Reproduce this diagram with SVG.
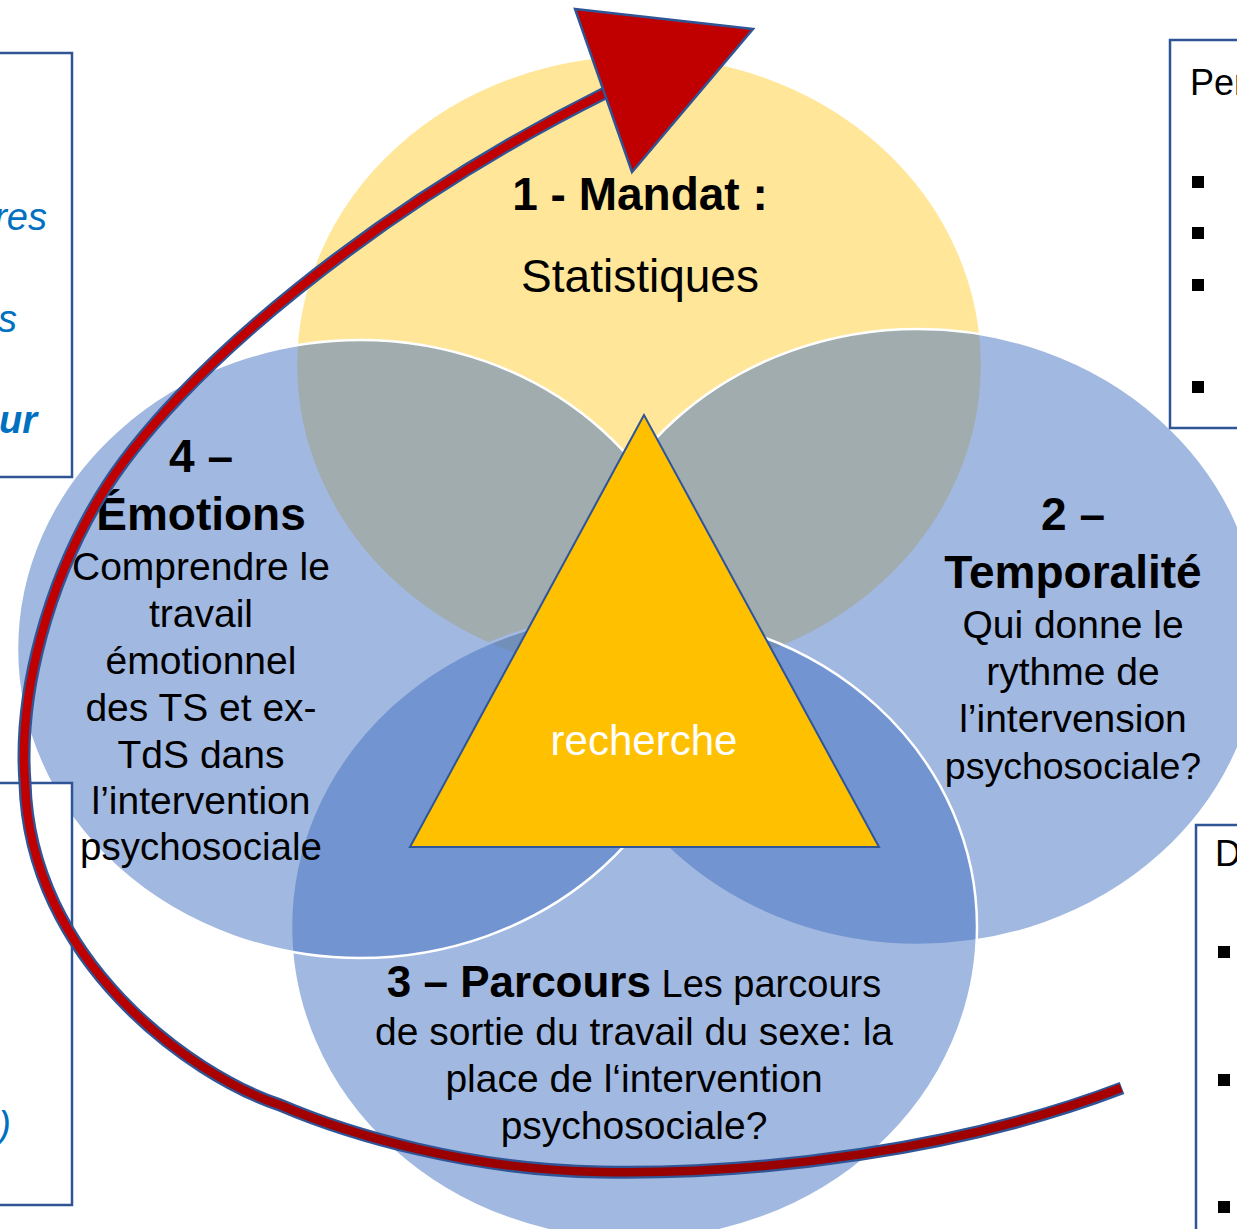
<svg xmlns="http://www.w3.org/2000/svg" width="1237" height="1229" viewBox="0 0 1237 1229">
<style>
.t{font-family:"Liberation Sans",Arial,sans-serif;fill:#000;text-anchor:middle}
.b{font-weight:bold}
.blue{fill:#4472C4;fill-opacity:0.5;stroke:#fff;stroke-width:2.5}
.box{fill:#fff;stroke:#2F5597;stroke-width:2.5}
.side{font-family:"Liberation Sans",Arial,sans-serif;fill:#0070C0;font-style:italic;text-anchor:end}
.bul{fill:#000}
</style>
<defs>
<linearGradient id="rg" gradientUnits="userSpaceOnUse" x1="0" y1="950" x2="0" y2="1165">
<stop offset="0" stop-color="#C00000"/>
<stop offset="1" stop-color="#990000"/>
</linearGradient>
</defs>
<rect width="1237" height="1229" fill="#fff"/>

<g id="circle-mandat">
<ellipse cx="639" cy="365" rx="343" ry="310" fill="#FFE699" stroke="#fff" stroke-width="2.5"/>
</g>
<g id="circle-temporalite">
<ellipse class="blue" cx="918" cy="637" rx="343" ry="308"/>
</g>
<g id="circle-parcours">
<ellipse class="blue" cx="634" cy="927" rx="343" ry="313"/>
</g>
<g id="circle-emotions">
<ellipse class="blue" cx="360" cy="649" rx="343" ry="309"/>
</g>

<g id="triangle-recherche">
<polygon points="644,415 410,847 879,847" fill="#FFC000" stroke="#2F5597" stroke-width="2"/>
<text class="t" x="644" y="755" font-size="42" style="fill:#fff">recherche</text>
</g>

<g id="label-mandat">
<text class="t b" x="640" y="210" font-size="46">1 - Mandat :</text>
<text class="t" x="640" y="292" font-size="46">Statistiques</text>
</g>

<g id="label-temporalite">
<text class="t b" x="1073" y="530" font-size="46">2 –</text>
<text class="t b" x="1073" y="588" font-size="46">Temporalité</text>
<text class="t" x="1073" y="638" font-size="39">Qui donne le</text>
<text class="t" x="1073" y="685" font-size="39">rythme de</text>
<text class="t" x="1073" y="732" font-size="39">l’intervension</text>
<text class="t" x="1073" y="779" font-size="37.5">psychosociale?</text>
</g>

<g id="label-emotions">
<text class="t b" x="201" y="472" font-size="46">4 –</text>
<text class="t b" x="201" y="530" font-size="46">Émotions</text>
<text class="t" x="201" y="580" font-size="39">Comprendre le</text>
<text class="t" x="201" y="627" font-size="39">travail</text>
<text class="t" x="201" y="674" font-size="39">émotionnel</text>
<text class="t" x="201" y="721" font-size="39">des TS et ex-</text>
<text class="t" x="201" y="768" font-size="39">TdS dans</text>
<text class="t" x="201" y="814" font-size="39">l’intervention</text>
<text class="t" x="201" y="860" font-size="38.5">psychosociale</text>
</g>

<g id="label-parcours">
<text class="t" x="634" y="997" font-size="38"><tspan font-weight="bold" font-size="44">3 – Parcours</tspan> Les parcours</text>
<text class="t" x="634" y="1045" font-size="39">de sortie du travail du sexe: la</text>
<text class="t" x="634" y="1092" font-size="39">place de l‘intervention</text>
<text class="t" x="634" y="1139" font-size="39">psychosociale?</text>
</g>

<g id="box-left-top">
<rect class="box" x="-5" y="53" width="77" height="424"/>
<text class="side" x="47" y="230" font-size="38">res</text>
<text class="side" x="17" y="332" font-size="38">s</text>
<text class="side" x="37" y="433" font-size="38" font-weight="bold">ur</text>
</g>
<g id="box-left-bottom">
<rect class="box" x="-5" y="783" width="77" height="422"/>
<text class="side" x="11" y="1138" font-size="38">)</text>
</g>
<g id="box-right-top">
<rect class="box" x="1170" y="40" width="80" height="388"/>
<text class="t" x="1190" y="95" font-size="36" style="text-anchor:start">Per</text>
<rect class="bul" x="1192" y="176" width="12" height="12"/>
<rect class="bul" x="1192" y="227" width="12" height="12"/>
<rect class="bul" x="1192" y="279" width="12" height="12"/>
<rect class="bul" x="1192" y="381" width="12" height="12"/>
</g>
<g id="box-right-bottom">
<rect class="box" x="1196" y="825" width="60" height="420"/>
<text class="t" x="1215" y="866" font-size="36" style="text-anchor:start">D</text>
<rect class="bul" x="1218" y="946" width="12" height="12"/>
<rect class="bul" x="1218" y="1074" width="12" height="12"/>
<rect class="bul" x="1218" y="1201" width="12" height="12"/>
</g>

<g id="connectors">
<path d="M 1122,1088 C 960,1150 760,1175 600,1172 C 470,1170 350,1135 280,1105 C 190,1075 30,960 25,783 C 18,690 50,580 100,497 C 175,372 380,205 607,92" fill="none" stroke="#2F5597" stroke-width="13"/>
<path d="M 1121,1088 C 960,1150 760,1175 600,1172 C 470,1170 350,1135 280,1105 C 190,1075 30,960 25,783 C 18,690 50,580 100,497 C 175,372 380,205 607,92" fill="none" stroke="url(#rg)" stroke-width="8.5"/>
<polygon points="575,9 753,29 632,172" fill="#C00000" stroke="#2F5597" stroke-width="2.5"/>
</g>
</svg>
